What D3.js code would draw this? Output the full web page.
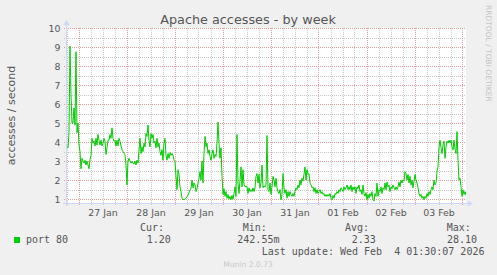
<!DOCTYPE html>
<html>
<head>
<meta charset="utf-8">
<script src="https://cdn.jsdelivr.net/npm/d3@7"></script>
<style>
  html, body { margin: 0; padding: 0; background: #f0f0f0; }
  svg { display: block; }
  .mono { font-family: 'DejaVu Sans Mono', monospace; font-size: 10px; white-space: pre; fill: #555; }
</style>
</head>
<body>
<svg id="chart"></svg>
<script>
// chart values
const title = 'Apache accesses - by week';
const yLabel = 'accesses / second';
const yTicks = [1, 2, 3, 4, 5, 6, 7, 8, 9, 10];
const dayLabels = ['27 Jan', '28 Jan', '29 Jan', '30 Jan', '31 Jan', '01 Feb', '02 Feb', '03 Feb'];
const seriesName = 'port 80';
const statNames = ['Cur:', 'Min:', 'Avg:', 'Max:'];
const statValues = ['1.20', '242.55m', '2.33', '28.10'];
const lastUpdate = 'Last update: Wed Feb  4 01:30:07 2026';
const footer = 'Munin 2.0.73';
const watermark = 'RRDTOOL / TOBI OETIKER';

// one sample every 30 minutes, from 26 Jan 17:45 UTC
const startTime = Date.UTC(2026, 0, 26, 17, 45);
const stepMs = 30 * 60 * 1000;
const accesses = [
  3.8, 3.77, 3.7, 4.5, 9.05, 6.5, 5.0, 5.0, 5.8, 4.9,
  8.75, 4.5, 5.0, 3.85, 3.5, 2.6, 3.15, 3.0, 2.9, 3.05,
  2.8, 3.0, 2.8, 2.6, 3.1, 3.3, 4.2, 3.95, 4.05, 3.8,
  4.2, 3.85, 4.4, 4.1, 3.85, 4.1, 3.8, 3.95, 4.2, 4.05,
  3.35, 3.7, 4.1, 4.1, 4.4, 4.2, 4.75, 4.2, 4.05, 4.1,
  3.8, 4.1, 3.8, 4.2, 4.05, 3.8, 3.6, 3.5, 3.4, 3.35,
  2.8, 1.75, 3.0, 3.15, 3.0, 2.9, 3.0, 2.9, 2.85, 3.0,
  2.8, 3.05, 2.9, 3.6, 4.2, 3.4, 3.75, 3.5, 3.95, 3.75,
  4.45, 4.3, 4.9, 4.1, 3.75, 4.45, 4.2, 4.4, 3.95, 4.05,
  3.7, 4.2, 3.75, 3.95, 3.5, 3.3, 3.6, 3.05, 3.95, 4.2,
  3.3, 3.05, 3.4, 3.15, 3.45, 3.3, 3.4, 3.3, 3.05, 2.98,
  2.2, 1.5, 2.55, 2.3, 1.65, 1.4, 1.05, 0.97, 1.0, 1.0,
  1.05, 1.15, 1.2, 1.35, 1.5, 1.55, 2.0, 1.6, 1.85, 1.75,
  1.4, 1.55, 1.85, 2.1, 2.45, 2.0, 3.0, 1.85, 3.4, 4.3,
  3.75, 3.95, 3.4, 3.6, 3.25, 3.05, 3.4, 3.6, 3.15, 3.35,
  3.25, 3.95, 5.05, 3.95, 3.15, 3.7, 2.2, 1.25, 1.55, 1.15,
  1.4, 1.05, 1.25, 1.0, 1.15, 0.97, 1.2, 1.0, 1.3, 1.65,
  1.15, 4.4, 1.85, 1.3, 2.0, 2.7, 1.65, 2.55, 1.75, 1.65,
  1.7, 1.65, 1.3, 1.6, 1.4, 1.5, 1.4, 1.6, 1.4, 1.6,
  2.2, 2.35, 1.85, 2.3, 1.6, 1.85, 2.8, 1.6, 1.7, 1.65,
  1.75, 4.35, 1.5, 1.4, 1.85, 1.25, 1.65, 2.2, 2.0, 1.65,
  2.1, 1.6, 1.4, 1.3, 1.5, 0.97, 1.25, 2.35, 1.6, 1.3,
  1.5, 1.05, 1.4, 1.15, 1.4, 1.25, 1.15, 1.3, 1.15, 1.4,
  1.6, 1.5, 1.75, 1.6, 2.0, 1.75, 2.1, 1.95, 2.3, 2.7,
  2.0, 2.55, 2.3, 2.35, 1.85, 1.75, 1.6, 1.65, 1.4, 1.6,
  1.3, 1.5, 1.3, 1.4, 1.5, 1.3, 1.4, 1.25, 1.3, 1.15,
  1.25, 1.15, 1.25, 1.15, 1.3, 1.05, 0.97, 1.2, 1.05, 1.3,
  1.25, 1.4, 1.3, 1.5, 1.4, 1.6, 1.5, 1.4, 1.65, 1.5,
  1.6, 1.75, 1.5, 1.65, 1.5, 1.75, 1.4, 1.65, 1.5, 1.65,
  1.3, 1.65, 1.55, 1.75, 1.4, 1.5, 1.25, 1.75, 1.3, 1.15,
  1.35, 0.97, 1.25, 1.05, 1.3, 1.15, 1.4, 0.97, 0.9, 1.3,
  1.15, 1.85, 1.15, 1.5, 1.4, 1.65, 1.3, 1.6, 1.5, 1.85,
  1.5, 1.9, 1.65, 1.75, 1.4, 1.65, 1.55, 1.75, 1.6, 1.5,
  1.65, 1.5, 1.65, 1.9, 1.65, 2.0, 1.85, 2.0, 1.95, 2.45,
  2.35, 2.0, 2.3, 1.85, 2.2, 1.75, 2.0, 1.6, 1.95, 2.3,
  2.0, 1.85, 1.6, 1.3, 1.15, 1.25, 1.05, 1.15, 0.97, 1.15,
  1.05, 1.3, 1.15, 1.4, 1.25, 1.5, 1.65, 1.5, 2.0, 1.75,
  1.85, 2.45, 2.7, 3.75, 4.1, 3.7, 3.4, 3.85, 4.05, 3.15,
  3.75, 4.05, 3.95, 4.1, 3.95, 4.1, 3.75, 3.6, 4.1, 3.6,
  3.4, 4.55, 3.05, 2.0, 2.1, 1.65, 1.15, 1.5, 1.25, 1.4,
  1.2
];

document.addEventListener('DOMContentLoaded', () => {
  const W = 497, H = 275;
  const plot = { left: 66, right: 466, top: 28, bottom: 203 };
  const textColor = '#555';
  const sans = '"DejaVu Sans", sans-serif';

  const svg = d3.select('#chart').attr('width', W).attr('height', H);

  svg.append('rect').attr('width', W).attr('height', H).attr('fill', '#f0f0f0');
  svg.append('rect')
    .attr('x', plot.left).attr('y', plot.top)
    .attr('width', plot.right - plot.left).attr('height', plot.bottom - plot.top)
    .attr('fill', '#fff');

  const times = accesses.map((d, i) => new Date(startTime + i * stepMs));
  const endTime = new Date(startTime + (accesses.length - 1) * stepMs);

  const x = d3.scaleUtc()
    .domain([new Date(startTime), endTime])
    .range([plot.left, plot.right]);

  const y = d3.scaleLinear()
    .domain([0.8, 10])
    .range([plot.bottom, plot.top]);

  // dotted grid lines are drawn as thin rects filled with a 1px dot pattern
  const defs = svg.append('defs');
  const minorColor = '#c6c6c6';
  const majorColor = '#e89c9c';
  function dotPattern(id, color, vertical) {
    const p = defs.append('pattern')
      .attr('id', id)
      .attr('patternUnits', 'userSpaceOnUse')
      .attr('width', vertical ? 1 : 2)
      .attr('height', vertical ? 2 : 1);
    p.append('rect').attr('width', 1).attr('height', 1).attr('fill', color);
  }
  dotPattern('minor-v', minorColor, true);
  dotPattern('minor-h', minorColor, false);
  dotPattern('major-v', majorColor, true);
  dotPattern('major-h', majorColor, false);

  const grid = svg.append('g').attr('shape-rendering', 'crispEdges');
  const sixHours = d3.utcHour.every(6).range(x.domain()[0], x.domain()[1]);
  const minorX = sixHours.filter(d => d.getUTCHours() !== 0);
  const majorX = sixHours.filter(d => d.getUTCHours() === 0);
  const minorY = d3.range(1.5, 10, 1);

  function vLines(data, pat) {
    grid.append('g').selectAll('rect').data(data).join('rect')
      .attr('x', d => Math.round(x(d)))
      .attr('y', plot.top)
      .attr('width', 1)
      .attr('height', plot.bottom - plot.top + 3)
      .attr('fill', `url(#${pat})`);
  }
  function hLines(data, pat) {
    grid.append('g').selectAll('rect').data(data).join('rect')
      .attr('x', plot.left - 3)
      .attr('y', d => Math.round(y(d)))
      .attr('width', plot.right - plot.left + 3)
      .attr('height', 1)
      .attr('fill', `url(#${pat})`);
  }
  vLines(minorX, 'minor-v');
  hLines(minorY, 'minor-h');
  vLines(majorX, 'major-v');
  hLines(yTicks, 'major-h');

  // data line
  svg.append('clipPath').attr('id', 'clip')
    .append('rect')
    .attr('x', plot.left).attr('y', plot.top)
    .attr('width', plot.right - plot.left).attr('height', plot.bottom - plot.top);

  const line = d3.line()
    .x((d, i) => x(times[i]))
    .y(d => y(d));

  svg.append('path')
    .datum(accesses)
    .attr('clip-path', 'url(#clip)')
    .attr('fill', 'none')
    .attr('stroke', '#00cc00')
    .attr('stroke-width', 1)
    .attr('d', line);

  // axes lines and arrows
  const axisColor = '#cfd6f8';
  svg.append('rect')
    .attr('x', plot.left).attr('y', plot.top - 4)
    .attr('width', 1).attr('height', plot.bottom - plot.top + 7)
    .attr('fill', axisColor);
  svg.append('rect')
    .attr('x', plot.left - 3).attr('y', plot.bottom)
    .attr('width', plot.right - plot.left + 6).attr('height', 1)
    .attr('fill', axisColor);
  svg.append('path')
    .attr('d', `M${plot.left - 2.5},${plot.top - 3} L${plot.left + 0.5},${plot.top - 8} L${plot.left + 3.5},${plot.top - 3} Z`)
    .attr('fill', axisColor);
  svg.append('path')
    .attr('d', `M${plot.right + 2},${plot.bottom - 2.5} L${plot.right + 7},${plot.bottom + 0.5} L${plot.right + 2},${plot.bottom + 3.5} Z`)
    .attr('fill', axisColor);

  // tick labels
  const yAxis = svg.append('g')
    .attr('transform', `translate(${plot.left - 5.5},0)`)
    .call(d3.axisLeft(y).tickValues(yTicks).tickSize(0).tickPadding(0));
  yAxis.select('.domain').remove();
  yAxis.attr('font-family', sans).attr('font-size', 9.4);
  yAxis.selectAll('text').attr('fill', textColor);

  const noonTicks = majorX.slice(0, dayLabels.length).map(d => d3.utcHour.offset(d, 12));
  const xAxis = svg.append('g')
    .attr('transform', `translate(0,${plot.bottom + 6.3})`)
    .call(d3.axisBottom(x).tickValues(noonTicks).tickSize(0).tickPadding(0)
      .tickFormat((d, i) => dayLabels[i]));
  xAxis.select('.domain').remove();
  xAxis.attr('font-family', sans).attr('font-size', 9.4);
  xAxis.selectAll('text').attr('fill', textColor);

  // title and labels
  svg.append('text')
    .attr('x', 248).attr('y', 24)
    .attr('text-anchor', 'middle')
    .style('font-family', sans).style('font-size', '12.8px')
    .attr('fill', textColor)
    .text(title);

  svg.append('text')
    .attr('transform', `translate(15,${(plot.top + plot.bottom) / 2}) rotate(-90)`)
    .attr('text-anchor', 'middle')
    .style('font-family', sans).style('font-size', '11px')
    .attr('fill', textColor)
    .text(yLabel);

  svg.append('text')
    .attr('transform', 'translate(486,5) rotate(90)')
    .attr('text-anchor', 'start')
    .style('font-family', sans).style('font-size', '7.5px')
    .attr('fill', '#c4c4c4')
    .text(watermark);

  // legend
  svg.append('rect')
    .attr('x', 14).attr('y', 237).attr('width', 6).attr('height', 6)
    .attr('fill', '#00cc00');
  svg.append('text').attr('class', 'mono')
    .attr('x', 26).attr('y', 243)
    .text(seriesName);

  const nameX = [140, 242.7, 345, 446.7];
  const valueX = [146.7, 237.3, 351.7, 447];
  svg.selectAll('text.stat-name').data(statNames).join('text')
    .attr('class', 'mono stat-name')
    .attr('x', (d, i) => nameX[i]).attr('y', 231)
    .text(d => d);
  svg.selectAll('text.stat-value').data(statValues).join('text')
    .attr('class', 'mono stat-value')
    .attr('x', (d, i) => valueX[i]).attr('y', 243)
    .text(d => d);

  svg.append('text').attr('class', 'mono')
    .attr('x', 261.7).attr('y', 255)
    .text(lastUpdate);

  svg.append('text')
    .attr('x', 248).attr('y', 266.5)
    .attr('text-anchor', 'middle')
    .style('font-family', sans).style('font-size', '7.6px')
    .attr('fill', '#c8c8c8')
    .text(footer);
});
</script>
</body>
</html>
